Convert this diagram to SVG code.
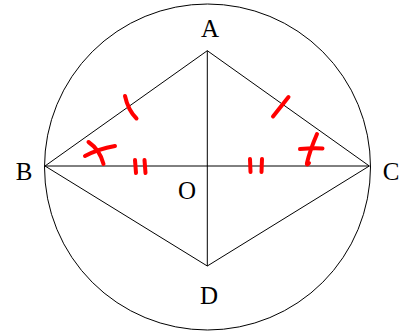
<svg xmlns="http://www.w3.org/2000/svg" width="401" height="334" viewBox="0 0 401 334">
<style>
.ln{stroke:#000;stroke-width:1;fill:none}
.rd{stroke:#f00;stroke-width:4;fill:none;stroke-linecap:round;stroke-linejoin:round}
.lb{font-family:"Liberation Serif",serif;font-size:25px;fill:#000}
</style>
<rect width="401" height="334" fill="#fff"/>
<g id="circle"><circle class="ln" cx="207.5" cy="167" r="163"/></g>
<g id="connectors">
<path class="ln" d="M45,166 L207.3,50.7 L369.3,166 L207.3,266 Z"/>
<line class="ln" x1="45" y1="166" x2="369.3" y2="166"/>
<line class="ln" x1="207.3" y1="50.7" x2="207.3" y2="266"/>
</g>
<g id="marks">
<path class="rd" d="M125,96 Q128,110 136.5,118.5"/>
<path class="rd" d="M288.5,97 L273,116.5"/>
<path class="rd" d="M85,156 Q98,149 115,146"/>
<path class="rd" d="M88.5,142 Q100,150 103.5,164"/>
<path class="rd" d="M135,160 L136,173 M144.5,160 L145.5,173"/>
<path class="rd" d="M250,159 L250.5,172 M262,159 L261.5,172"/>
<path class="rd" d="M300,149 Q312,148 322.5,148.5"/>
<path class="rd" d="M317,134 Q310,150 307,163 Q306.5,166 309,163"/>
</g>
<g id="A"><text class="lb" x="210" y="37" text-anchor="middle">A</text></g>
<g id="B"><text class="lb" x="24" y="180" text-anchor="middle">B</text></g>
<g id="C"><text class="lb" x="391" y="180" text-anchor="middle">C</text></g>
<g id="O"><text class="lb" x="187" y="199" text-anchor="middle">O</text></g>
<g id="D"><text class="lb" x="209" y="304" text-anchor="middle">D</text></g>
</svg>
